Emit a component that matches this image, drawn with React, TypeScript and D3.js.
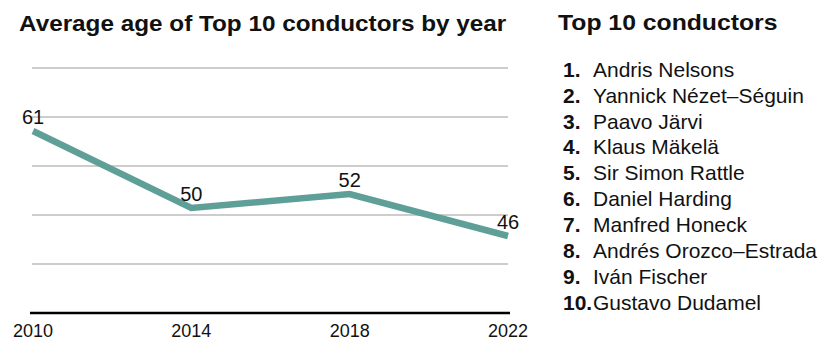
import React from "react";
import * as d3 from "d3";

const years: number[] = [2010, 2014, 2018, 2022];
const ages: number[] = [61, 50, 52, 46];
const gridValues: number[] = [42, 49, 56, 63, 70];
const baseValue = 35;
const chartTitle = "Average age of Top 10 conductors by year";
const listTitle = "Top 10 conductors";
const conductors: string[] = [
  "Andris Nelsons",
  "Yannick Nézet–Séguin",
  "Paavo Järvi",
  "Klaus Mäkelä",
  "Sir Simon Rattle",
  "Daniel Harding",
  "Manfred Honeck",
  "Andrés Orozco–Estrada",
  "Iván Fischer",
  "Gustavo Dudamel",
];

const W = 836;
const H = 356;
const FONT = "'Liberation Sans', Arial, Helvetica, sans-serif";
const TEAL = "#5e9f97";

export default function App() {
  const x = d3.scaleLinear().domain([2010, 2022]).range([33, 508]);
  const y = d3.scaleLinear().domain([35, 70]).range([313, 68]);
  const data = years.map((yr, i) => ({ yr, v: ages[i] }));
  const line = d3
    .line<{ yr: number; v: number }>()
    .x((d) => x(d.yr))
    .y((d) => y(d.v));

  const rowY = d3.scaleLinear().domain([0, 9]).range([76.7, 310]);

  return (
    <svg
      width={W}
      height={H}
      style={{ position: "absolute", left: 0, top: 0, background: "#fff" }}
      fontFamily={FONT}
    >
      <rect width={W} height={H} fill="#fff" />
      <text
        transform="translate(19,30.5) scale(1.08,1)"
        fontSize={22.5}
        fontWeight="bold"
        fill="#111"
      >
        {chartTitle}
      </text>

      {gridValues.map((g) => (
        <line
          key={g}
          x1={32}
          x2={508}
          y1={y(g)}
          y2={y(g)}
          stroke="#bdbdbd"
          strokeWidth={1.5}
        />
      ))}
      <line
        x1={30}
        x2={510}
        y1={y(baseValue)}
        y2={y(baseValue)}
        stroke="#000"
        strokeWidth={2.5}
      />

      {years.map((yr) => (
        <text
          key={yr}
          x={x(yr)}
          y={336.5}
          textAnchor="middle"
          fontSize={18}
          fill="#111"
        >
          {yr}
        </text>
      ))}

      <path d={line(data) || ""} fill="none" stroke={TEAL} strokeWidth={6.5} />

      {data.map((d) => (
        <text
          key={d.yr}
          x={x(d.yr)}
          y={y(d.v) - 7.5}
          textAnchor="middle"
          fontSize={20}
          fill="#111"
        >
          {d.v}
        </text>
      ))}

      <text
        transform="translate(558,29.5) scale(1.1,1)"
        fontSize={22.5}
        fontWeight="bold"
        fill="#111"
      >
        {listTitle}
      </text>

      {conductors.map((name, i) => (
        <g key={name}>
          <text
            transform={`translate(563,${rowY(i)}) scale(1.05,1)`}
            fontSize={20}
            fontWeight="bold"
            fill="#111"
          >
            {`${i + 1}.`}
          </text>
          <text
            transform={`translate(593,${rowY(i)}) scale(1.05,1)`}
            fontSize={20}
            fill="#111"
          >
            {name}
          </text>
        </g>
      ))}
    </svg>
  );
}
